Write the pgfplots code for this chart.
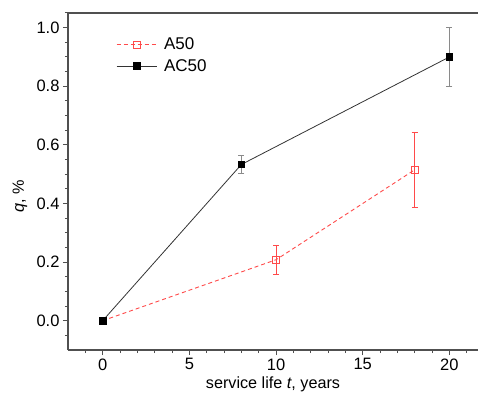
\documentclass[border=0pt]{standalone}
\usepackage{pgfplots}
\pgfplotsset{compat=1.18}
\usepackage{fontspec}
\setmainfont{Liberation Sans}
\definecolor{redA}{HTML}{FF4A4A}
\definecolor{axgray}{HTML}{505050}
\definecolor{lineK}{HTML}{333333}
\definecolor{errK}{HTML}{8A8A8A}
\pgfplotstableread{
x y e
0 0 0
10 0.208 0.05
18 0.515 0.127
}\tableA
\pgfplotstableread{
x y e
0 0 0
8 0.533 0.03
20 0.900 0.10
}\tableAC
\begin{document}
\begin{tikzpicture}
\begin{axis}[
  at={(0pt,0pt)}, anchor=south west,
  scale only axis, width=410pt, height=337pt,
  xmin=-2, xmax=21.65, ymin=-0.1, ymax=1.05,
  axis x line*=bottom, axis y line*=left,
  axis line style={-, axgray, line width=1.2pt},
  xtick={0,5,10,15,20},
  minor xtick={-1,1,2,3,4,6,7,8,9,11,12,13,14,16,17,18,19,21},
  ytick={0,0.2,0.4,0.6,0.8,1.0},
  minor ytick={-0.05,0.05,0.1,0.15,0.25,0.3,0.35,0.45,0.5,0.55,0.65,0.7,0.75,0.85,0.9,0.95,1.05},
  tick align=outside,
  major tick length=5pt, minor tick length=3pt,
  every tick/.style={axgray, line width=1pt},
  /pgf/number format/assume math mode=true,
  yticklabel style={/pgf/number format/fixed, /pgf/number format/fixed zerofill, /pgf/number format/precision=1},
  tick label style={font=\fontsize{16.5}{19}\selectfont, black},
  xlabel={service life \textit{t}, years},
  ylabel={\textit{q}, \%},
  label style={font=\fontsize{16.2}{19}\selectfont},
  xlabel style={at={(axis description cs:0.5,0)}, anchor=center, yshift=-34pt},
  ylabel style={at={([xshift=-48pt]axis description cs:0,0.457)}, anchor=center},
  legend style={at={(axis description cs:0.117,0.932)}, anchor=north west, draw=none, fill=none,
     font=\fontsize{17}{20}\selectfont, inner sep=0pt, row sep=4pt,
     /tikz/every odd column/.append style={column sep=5pt}},
  legend cell align=left,
  legend image code/.code={\draw[mark repeat=2,mark phase=2,#1] plot coordinates {(0pt,0pt)(20pt,0pt)(40pt,0pt)};},
  clip=false,
]
\addplot[redA, line width=0.9pt, dash pattern=on 4pt off 3pt,
  mark=square, mark size=3.3pt, mark options={solid, fill=white, line width=0.8pt},
  error bars/.cd, y dir=both, y explicit,
  error bar style={redA, solid, line width=0.9pt},
  error mark options={redA, solid, mark size=3pt, line width=0.9pt, rotate=90}]
  table[x=x, y=y, y error=e] {\tableA};
\addlegendentry{A50}
\addplot[lineK, line width=0.8pt,
  mark=square*, mark size=3.3pt, mark options={solid, black, fill=black},
  error bars/.cd, y dir=both, y explicit,
  error bar style={errK, line width=0.8pt},
  error mark options={errK, mark size=3pt, line width=0.8pt, rotate=90}]
  table[x=x, y=y, y error=e] {\tableAC};
\addlegendentry{AC50}
\end{axis}
\draw[axgray, line width=1.2pt] (0pt,337pt) -- (410pt,337pt);
\pgfresetboundingbox
\path (-68pt,-49pt) rectangle (410pt,350pt);
\end{tikzpicture}
\end{document}
